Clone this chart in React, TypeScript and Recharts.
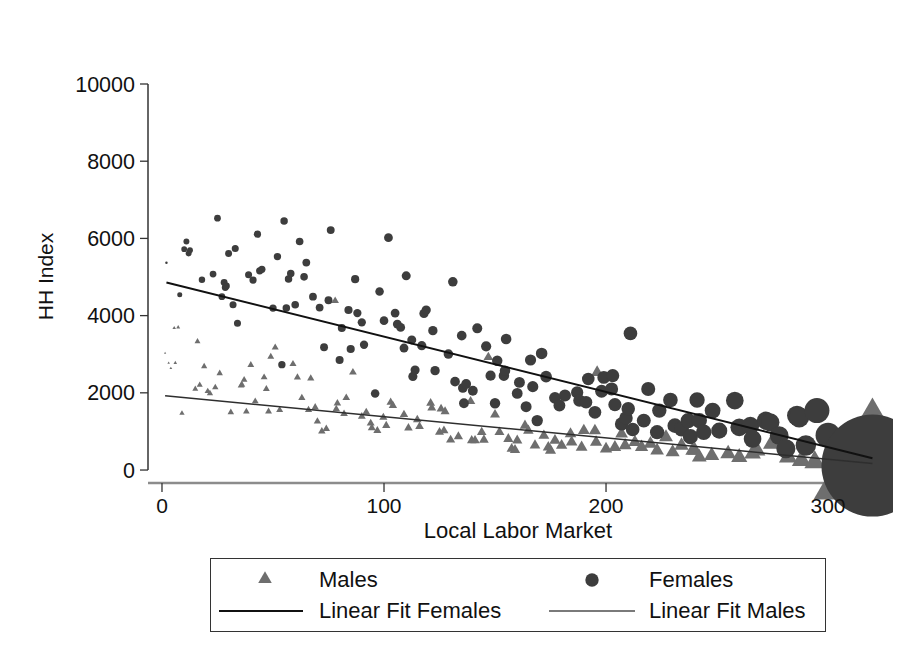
import {
  ComposedChart,
  Scatter,
  XAxis,
  YAxis,
  ZAxis,
  ReferenceLine,
  Legend,
  Label,
  Symbols,
} from 'recharts';

// [market rank, HH index, weight]
const femalePoints: [number, number, number][] = [
  [2, 5370, 3], [8, 4540, 12], [10, 5720, 16], [11, 5920, 17], [12, 5610, 17],
  [12.6, 5695, 17], [18, 4930, 20], [23, 5075, 22], [25, 6525, 22], [27, 4490, 22],
  [28, 4860, 23], [28.5, 4730, 23], [29, 4770, 23], [30, 5610, 23], [32, 4280, 24],
  [33, 5740, 24], [34, 3800, 24], [39, 5060, 24], [41, 4920, 25], [43, 6110, 25],
  [44, 5160, 25], [45, 5200, 25], [50, 4195, 26], [52, 5530, 26], [54, 2730, 26],
  [55, 6450, 27], [56, 4195, 27], [57, 4950, 27], [58, 5090, 27], [60, 4280, 28],
  [62, 5920, 28], [64, 5005, 28], [65, 5375, 29], [68, 4490, 29], [71, 4210, 29],
  [73, 3180, 30], [75, 4400, 30], [76, 6215, 30], [80, 2850, 31], [81, 3680, 31],
  [84, 4145, 32], [85, 3135, 32], [87, 4945, 32], [88, 4065, 33], [90, 3825, 33],
  [91, 3245, 33], [96, 1985, 35], [98, 4625, 35], [100, 3870, 36], [102, 6020, 37],
  [105, 4065, 37], [106, 3780, 38], [107.5, 3695, 38], [109, 3160, 38], [110, 5030, 39],
  [112.5, 3370, 39], [113, 2425, 40], [114, 2590, 40], [117, 3220, 41], [118, 4055, 41],
  [119, 4145, 41], [122, 3610, 42], [123, 2575, 42], [129, 3005, 44], [131, 4875, 44],
  [132, 2290, 45], [135, 3480, 45], [135.5, 2125, 45], [136, 1730, 46], [137, 2230, 46],
  [140, 2055, 47], [142, 3670, 48], [146, 3205, 50], [148, 2445, 50], [150, 1730, 52],
  [151, 2830, 52], [154, 2445, 53], [154.5, 2575, 53], [155, 3395, 54], [160, 1985, 56],
  [161, 2270, 57], [164, 1640, 58], [166, 2850, 60], [167, 2160, 60], [169, 1280, 62],
  [171, 3020, 64], [173, 2420, 65], [177, 1870, 67], [179, 1670, 68], [181.5, 1930, 70],
  [187, 2010, 72], [188, 1800, 73], [191, 1755, 75], [192, 2360, 76], [195, 1495, 78],
  [198, 2040, 80], [199, 2400, 80], [202.5, 2100, 83], [203, 2445, 83], [204, 1695, 84],
  [207, 1195, 86], [209, 1350, 88], [210, 1585, 88], [211, 3540, 89], [212, 1050, 90],
  [217, 1280, 94], [219, 2100, 95], [223, 980, 98], [224, 1540, 99], [229, 1815, 103],
  [231, 1150, 105], [234, 1065, 107], [237, 1280, 110], [238, 865, 110], [241, 1815, 113],
  [242, 1280, 114], [244, 980, 116], [248, 1540, 120], [251, 1020, 124], [258, 1800, 150],
  [260, 1105, 150], [265, 1150, 150], [266, 805, 150], [272, 1280, 160], [274, 1235, 160],
  [278, 890, 170], [281, 550, 175], [286, 1410, 190], [287, 1365, 195], [290, 635, 200],
  [295, 1540, 300], [300, 900, 300], [320, 115, 5000],
];

const malePoints: [number, number, number][] = [
  [1.4, 3030, 3], [3, 2775, 4], [4, 2635, 5], [5.5, 3680, 8], [6, 2775, 8],
  [7.3, 3695, 10], [9, 1470, 18], [15, 2100, 22], [16, 3330, 22], [17, 2205, 23],
  [19, 2685, 24], [20.6, 2040, 25], [21.6, 1985, 25], [24, 2140, 26], [26, 2505, 26],
  [31, 1495, 27], [35.6, 2185, 28], [36, 2210, 28], [37, 2335, 28], [38, 1515, 28],
  [40, 2720, 29], [42, 1780, 29], [46, 2400, 30], [47, 2100, 30], [48, 1515, 30],
  [49, 2935, 30], [51, 3175, 31], [53, 1555, 31], [59, 2745, 32], [61, 2400, 32],
  [63, 1870, 33], [66, 1555, 33], [67, 2375, 33], [69, 1625, 34], [70, 1260, 34],
  [72, 1005, 35], [74, 1065, 35], [78, 4385, 36], [78.5, 1580, 36], [79, 1730, 36],
  [82, 1455, 37], [83, 1870, 37], [86, 2530, 38], [90, 1385, 39], [92, 1495, 40],
  [94, 1210, 40], [94.5, 1090, 40], [97, 1020, 41], [99.7, 1365, 42], [101, 1150, 43],
  [103, 1755, 43], [104, 1670, 44], [109, 1435, 45], [111, 1090, 46], [115, 1300, 47],
  [116, 1125, 48], [121, 1730, 50], [121.5, 1610, 50], [125, 980, 51], [125.7, 1585, 51],
  [127, 1020, 52], [127.5, 1515, 52], [130, 780, 53], [133.5, 865, 54], [139, 1780, 56],
  [139.5, 765, 56], [141, 765, 57], [144, 980, 58], [145, 780, 59], [147, 2920, 60],
  [150, 1435, 62], [152, 980, 63], [156, 805, 65], [157.5, 550, 66], [159, 520, 67],
  [160, 765, 67], [163.5, 1150, 69], [165, 1020, 70], [168, 635, 72], [172, 890, 75],
  [174, 590, 77], [175, 505, 78], [177, 765, 80], [180, 635, 82], [184, 935, 85],
  [184.5, 720, 85], [189, 590, 88], [190, 1020, 89], [195, 1020, 93], [195.5, 720, 93],
  [196, 2530, 94], [200, 550, 97], [204, 590, 100], [207, 935, 103], [208.6, 635, 104],
  [213, 720, 108], [216, 590, 111], [220, 680, 115], [223, 505, 118], [227, 850, 122],
  [230, 460, 125], [234, 635, 129], [239, 505, 134], [240, 505, 135], [242, 330, 137],
  [247.6, 375, 144], [255, 420, 155], [260, 330, 165], [266, 420, 175], [268, 505, 178],
  [274.6, 680, 190], [282, 330, 210], [288, 245, 230], [294, 200, 270], [320, 115, 8750],
];

const femaleFitEnds: [number, number][] = [[2, 4860], [320, 305]];
const maleFitEnds: [number, number][] = [[1.4, 1925], [320, 170]];

const xTicks = [0, 100, 200, 300];
const yTicks = [0, 2000, 4000, 6000, 8000, 10000];

const X_MIN = -6.3;
const X_MAX = 327;
const FONT = '"Liberation Sans", Arial, Helvetica, sans-serif';
const FEMALE_COLOR = '#3d3d3d';
const MALE_COLOR = '#6e6e6e';
const TRI_SCALE = 0.42;

const toRows = (pts: [number, number, number][]) =>
  pts.map(([x, y, w]) => ({ x, y, w }));
const toLine = (pts: [number, number][]) => pts.map(([x, y]) => ({ x, y, w: 0 }));

const femaleData = toRows(femalePoints);
const maleData = toRows(malePoints);
const femaleFit = toLine(femaleFitEnds);
const maleFit = toLine(maleFitEnds);

const CircleShape = (props: any) => {
  const { cx, cy, size } = props;
  if (cx == null || cy == null) return null;
  return <Symbols type="circle" cx={cx} cy={cy} size={size} fill={FEMALE_COLOR} />;
};

const TriangleShape = (props: any) => {
  const { cx, cy, size } = props;
  if (cx == null || cy == null) return null;
  return (
    <Symbols type="triangle" cx={cx} cy={cy} size={size * TRI_SCALE} fill={MALE_COLOR} />
  );
};

const NoDot = () => <g />;

const LegendBox = () => (
  <div
    style={{
      position: 'relative',
      width: 616,
      height: 74,
      border: '1.5px solid #333',
      boxSizing: 'border-box',
      background: '#fff',
      fontFamily: FONT,
      fontSize: 22,
      color: '#111',
    }}
  >
    <svg width={616} height={74} style={{ position: 'absolute', left: 0, top: 0 }}>
      <Symbols type="triangle" cx={54} cy={20} size={80} fill={MALE_COLOR} />
      <Symbols type="circle" cx={381} cy={21} size={140} fill={FEMALE_COLOR} />
      <line x1={8} x2={92} y1={52} y2={52} stroke="#111" strokeWidth={2} />
      <line x1={338} x2={424} y1={52} y2={52} stroke="#7a7a7a" strokeWidth={2} />
    </svg>
    <span style={{ position: 'absolute', left: 108, top: 8 }}>Males</span>
    <span style={{ position: 'absolute', left: 438, top: 8 }}>Females</span>
    <span style={{ position: 'absolute', left: 108, top: 39 }}>Linear Fit Females</span>
    <span style={{ position: 'absolute', left: 438, top: 39 }}>Linear Fit Males</span>
  </div>
);

const YTitle = (props: any) => {
  const { viewBox } = props;
  const x = 37;
  const y = viewBox.y + viewBox.height / 2 - 7;
  return (
    <text
      x={x}
      y={y}
      transform={`rotate(-90 ${x} ${y})`}
      textAnchor="middle"
      dominantBaseline="central"
      fontFamily={FONT}
      fontSize={21}
      fill="#111"
    >
      HH Index
    </text>
  );
};

export default function App() {
  return (
    <div style={{ width: 893, height: 652, background: '#fff' }}>
      <ComposedChart
        width={893}
        height={652}
        margin={{ top: 76, right: 13, bottom: 120, left: 0 }}
      >
        <XAxis
          type="number"
          dataKey="x"
          domain={[X_MIN, X_MAX]}
          ticks={xTicks}
          height={57}
          tickSize={9}
          tickMargin={6}
          axisLine={{ stroke: '#8c8c8c', strokeWidth: 2.7 }}
          tickLine={{ stroke: '#333', strokeWidth: 1.3 }}
          tick={{ fill: '#111', fontSize: 21, fontFamily: FONT }}
        >
          <Label
            value="Local Labor Market"
            position="insideBottom"
            offset={2}
            style={{ fill: '#111', fontSize: 22, fontFamily: FONT }}
          />
        </XAxis>
        <YAxis
          type="number"
          dataKey="y"
          domain={[-336, 10000]}
          ticks={yTicks}
          width={140}
          tickSize={8}
          tickMargin={5}
          axisLine={false}
          tickLine={{ stroke: '#333', strokeWidth: 1.3 }}
          tick={{ fill: '#111', fontSize: 21.5, fontFamily: FONT }}
        >
          <Label content={<YTitle />} />
        </YAxis>
        <ZAxis type="number" dataKey="w" domain={[0, 10000]} range={[0, 16340]} />
        <ReferenceLine
          segment={[
            { x: X_MIN, y: 0 },
            { x: X_MIN, y: 10000 },
          ]}
          stroke="#333"
          strokeWidth={1.5}
          ifOverflow="visible"
        />
        <Scatter
          name="Males"
          data={maleData}
          shape={<TriangleShape />}
          isAnimationActive={false}
        />
        <Scatter
          name="Females"
          data={femaleData}
          shape={<CircleShape />}
          isAnimationActive={false}
        />
        <Scatter
          name="Linear Fit Females"
          data={femaleFit}
          line={{ stroke: '#111', strokeWidth: 2 }}
          shape={<NoDot />}
          legendType="none"
          isAnimationActive={false}
        />
        <Scatter
          name="Linear Fit Males"
          data={maleFit}
          line={{ stroke: '#2e2e2e', strokeWidth: 1.5 }}
          shape={<NoDot />}
          legendType="none"
          isAnimationActive={false}
        />
        <Legend
          layout="horizontal"
          verticalAlign="middle"
          align="center"
          wrapperStyle={{ top: 550, left: 202, width: 616, height: 74 }}
          content={() => <LegendBox />}
        />
      </ComposedChart>
    </div>
  );
}
